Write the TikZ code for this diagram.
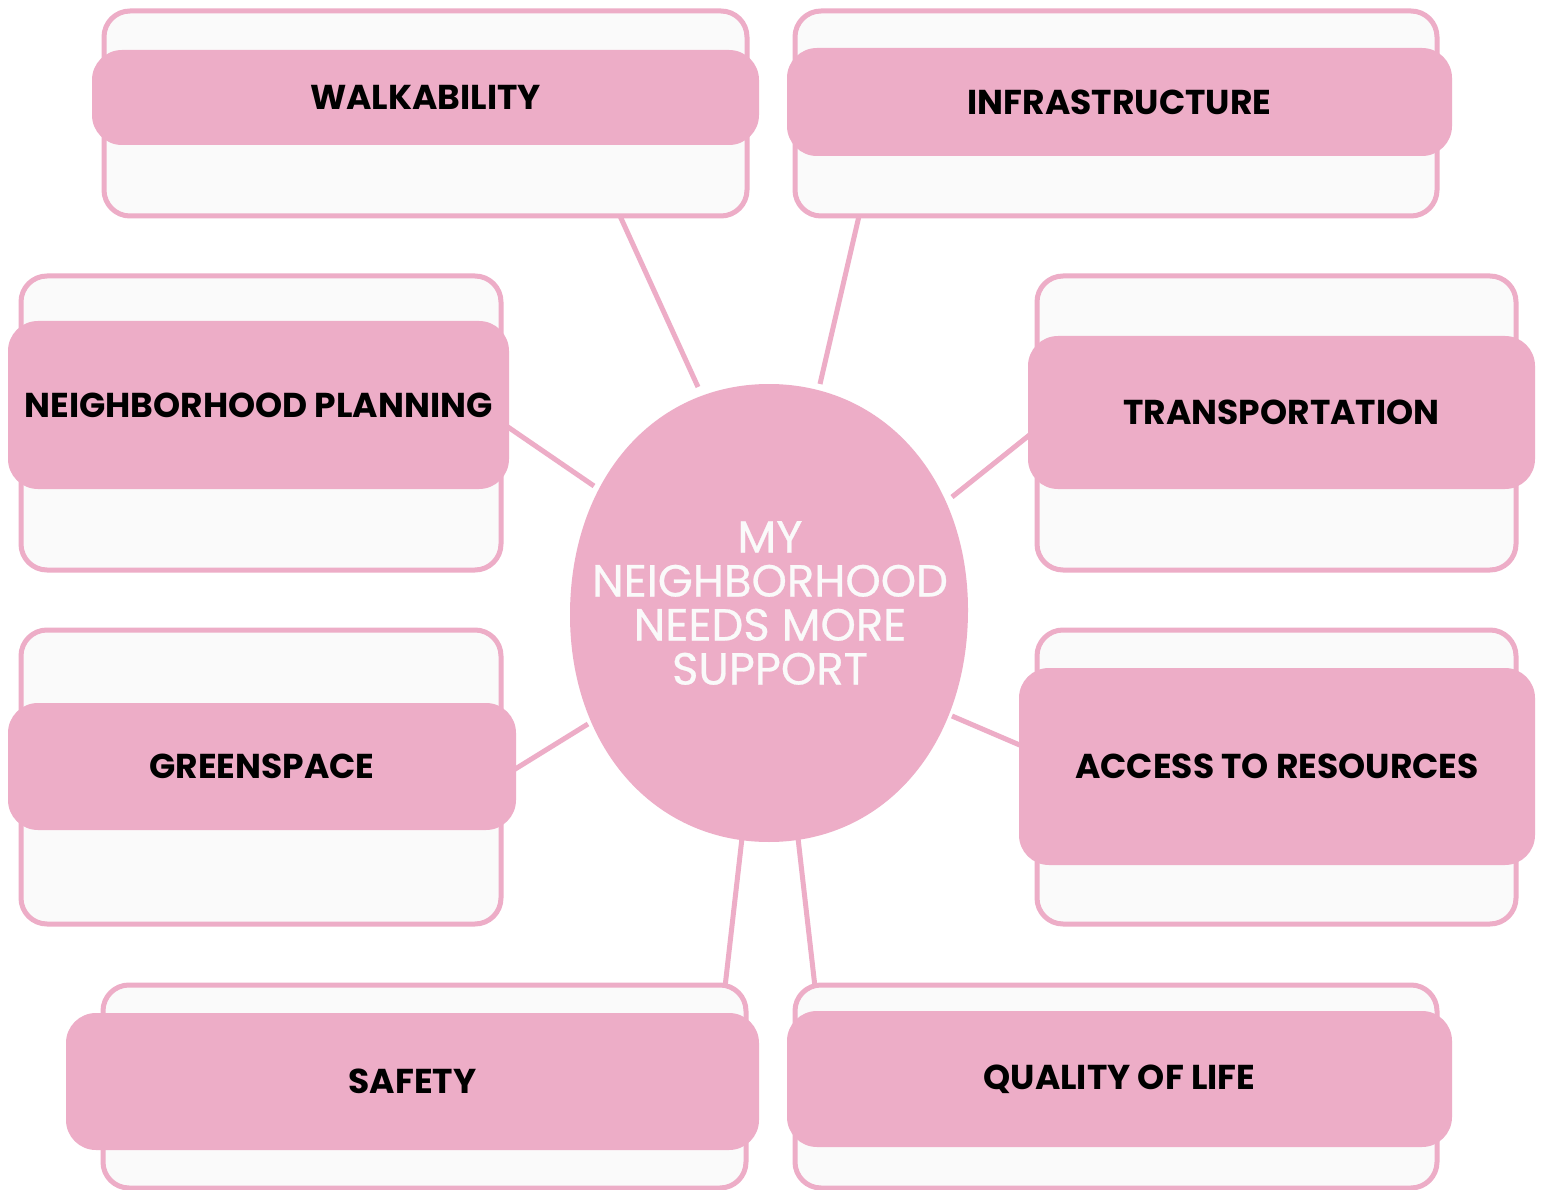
\documentclass[tikz,border=0pt]{standalone}
\usepackage{fontspec}
\setmainfont{Poppins}
\newfontfamily\centerfont{Poppins}[FakeBold=0.6]
\definecolor{pinkc}{HTML}{EDADC7}
\definecolor{boxbg}{HTML}{FAFAFA}
\begin{document}
\begin{tikzpicture}[x=1pt,y=-1pt,
  outerbox/.style={draw=pinkc, line width=5pt, fill=boxbg, rounded corners=26pt, inner sep=0pt},
  innerbox/.style={fill=pinkc, rounded corners=30pt, inner sep=0pt, text=black,
    font=\bfseries\fontsize{34.5}{40}\selectfont},
  link/.style={draw=pinkc, line width=5pt}]
\useasboundingbox (0,0) rectangle (1545,1190);
\fill[white] (0,0) rectangle (1545,1190);
% connector endpoints
\coordinate (w1) at (620,216); \coordinate (w2) at (698,387);
\coordinate (i1) at (859,216); \coordinate (i2) at (820,384);
\coordinate (n1) at (505,425); \coordinate (n2) at (594,486);
\coordinate (t1) at (1032,433); \coordinate (t2) at (952,497);
\coordinate (g1) at (512,771); \coordinate (g2) at (588,724);
\coordinate (a1) at (1022,746); \coordinate (a2) at (952,716);
\coordinate (s1) at (725,987); \coordinate (s2) at (742,838);
\coordinate (q1) at (815,987); \coordinate (q2) at (798,838);
\draw[link] (w1) -- (w2);
\draw[link] (i1) -- (i2);
\draw[link] (n1) -- (n2);
\draw[link] (t1) -- (t2);
\draw[link] (g1) -- (g2);
\draw[link] (a1) -- (a2);
\draw[link] (s1) -- (s2);
\draw[link] (q1) -- (q2);
% outer boxes
\node[outerbox, minimum width=643pt, minimum height=205pt] (wo) at (425.5,113.5) {};
\node[outerbox, minimum width=642pt, minimum height=205pt] (io) at (1116,113.5) {};
\node[outerbox, minimum width=480pt, minimum height=294pt] (no) at (261,423) {};
\node[outerbox, minimum width=479pt, minimum height=294pt] (to) at (1276.5,423) {};
\node[outerbox, minimum width=480pt, minimum height=294pt] (go) at (261,777) {};
\node[outerbox, minimum width=479pt, minimum height=294pt] (ao) at (1276.5,777) {};
\node[outerbox, minimum width=643pt, minimum height=203pt] (so) at (424.5,1086.5) {};
\node[outerbox, minimum width=642pt, minimum height=203pt] (qo) at (1116,1086.5) {};
% inner label boxes
\node[innerbox, minimum width=667pt, minimum height=95pt] (wi) at (425.5,97.5) {WALKABILITY};
\node[innerbox, minimum width=665pt, minimum height=108pt] (ii) at (1119.5,102) {INFRASTRUCTURE};
\node[innerbox, minimum width=501pt, minimum height=168pt] (ni) at (258.5,405) {NEIGHBORHOOD PLANNING};
\node[innerbox, minimum width=507pt, minimum height=153pt] (ti) at (1281.5,412.5) {TRANSPORTATION};
\node[innerbox, minimum width=508pt, minimum height=127pt] (gi) at (262,766.5) {GREENSPACE};
\node[innerbox, minimum width=516pt, minimum height=197pt] (ai) at (1277,766.5) {ACCESS TO RESOURCES};
\node[innerbox, minimum width=693pt, minimum height=137pt] (si) at (412.5,1081.5) {SAFETY};
\node[innerbox, minimum width=665pt, minimum height=136pt] (qi) at (1119.5,1079) {QUALITY OF LIFE};
% center blob
\fill[pinkc] (769,384) .. controls (885,384) and (968,480) .. (968,610)
  .. controls (968,745) and (885,842) .. (769,842)
  .. controls (652,842) and (570,745) .. (570,615)
  .. controls (570,480) and (653,384) .. (769,384) -- cycle;
\node[text=boxbg, align=center, inner sep=0pt, font=\centerfont\fontsize{45}{44}\selectfont] (c) at (770,603)
  {MY\\NEIGHBORHOOD\\NEEDS MORE\\SUPPORT};
\end{tikzpicture}
\end{document}
